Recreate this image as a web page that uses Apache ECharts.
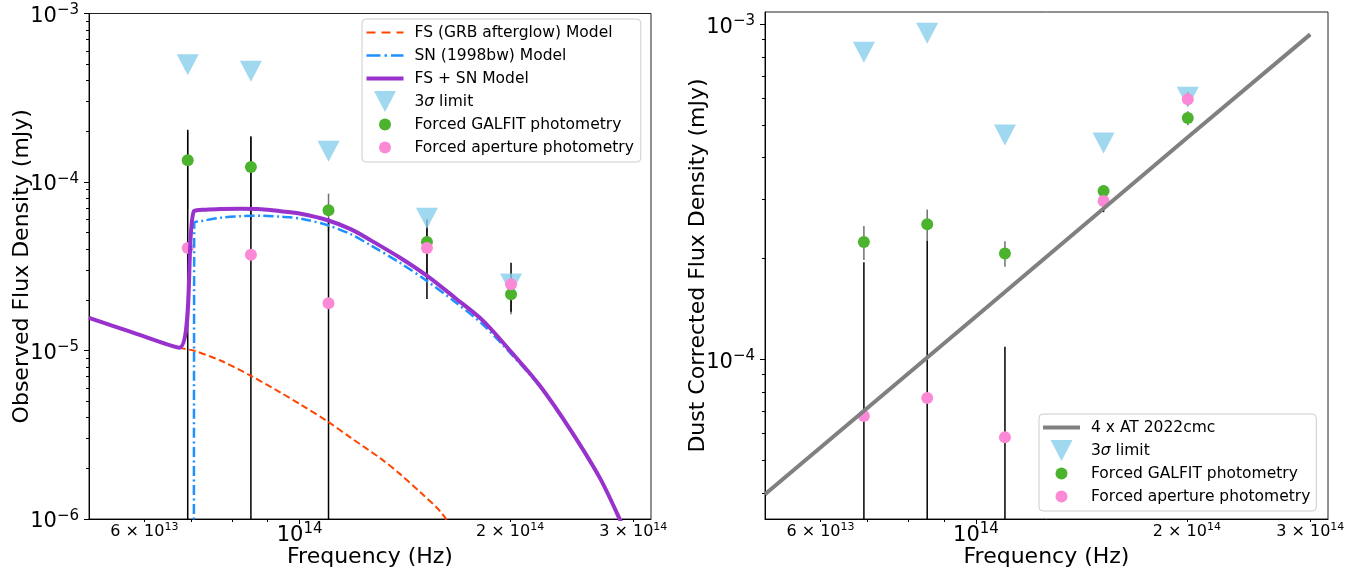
<!DOCTYPE html>
<html>
<head>
<meta charset="utf-8">
<script src="https://cdn.jsdelivr.net/npm/echarts@6/dist/echarts.min.js"></script>
<style>html,body{margin:0;padding:0;background:#fff}#c{width:1364px;height:574px}</style>
</head>
<body>
<div id="c"></div>
<script>
// ---------- data ----------
const filterFreq = [6.92e13, 8.52e13, 1.10e14, 1.521e14, 2.006e14];

// left panel: observed
const limitObs = [4.97e-4, 4.54e-4, 1.52e-4, 6.1e-5, 2.48e-5];
const galfitObs = [1.344e-4, 1.228e-4, 6.8e-5, 4.4e-5, 2.16e-5];
const galfitObsLo = [6.9e-5, 6.0e-5, 5.1e-5, 2.9e-5, 1.64e-5];
const galfitObsHi = [2.0e-4, 1.85e-4, 8.53e-5, 5.9e-5, 2.7e-5];
const apertureObs = [4.06e-5, 3.70e-5, 1.91e-5, 4.06e-5, 2.47e-5];
const apertureObsLo = [null, null, null, 2.02e-5, 1.7e-5];
const apertureObsHi = [2.04e-4, 1.87e-4, 6.1e-5, 6.0e-5, 3.32e-5];

// models (left panel)
const fsFreq = [5.0e13, 5.74e13, 6.73e13, 7.07e13, 7.72e13, 8.52e13, 9.40e13, 1.004e14, 1.097e14, 1.183e14, 1.305e14, 1.394e14, 1.488e14, 1.589e14, 1.696e14];
const fsFlux = [1.56e-5, 1.29e-5, 1.04e-5, 9.96e-6, 8.69e-6, 7.08e-6, 5.62e-6, 4.77e-6, 3.79e-6, 3.04e-6, 2.29e-6, 1.84e-6, 1.44e-6, 1.11e-6, 7.5e-7];
const snFreq = [7.06e13, 7.07e13, 7.23e13, 7.72e13, 8.25e13, 8.81e13, 9.40e13, 1.004e14, 1.097e14, 1.183e14, 1.263e14, 1.394e14, 1.522e14, 1.669e14, 1.830e14, 2.012e14, 2.206e14, 2.434e14, 2.686e14, 2.868e14, 3.062e14];
const snFlux = [1e-8, 5.69e-5, 5.85e-5, 6.14e-5, 6.27e-5, 6.31e-5, 6.22e-5, 6.06e-5, 5.54e-5, 4.90e-5, 4.22e-5, 3.30e-5, 2.58e-5, 1.94e-5, 1.42e-5, 9.43e-6, 6.10e-6, 3.40e-6, 1.74e-6, 1.0e-6, 5.4e-7];
const totFreq = [5.0e13, 5.74e13, 6.73e13, 7.06e13, 7.35e13, 7.72e13, 8.25e13, 8.81e13, 9.40e13, 1.004e14, 1.097e14, 1.183e14, 1.263e14, 1.394e14, 1.522e14, 1.669e14, 1.830e14, 2.012e14, 2.206e14, 2.434e14, 2.686e14, 2.868e14, 3.062e14];
const totFlux = [1.56e-5, 1.29e-5, 1.04e-5, 6.71e-5, 6.85e-5, 6.91e-5, 6.94e-5, 6.90e-5, 6.71e-5, 6.48e-5, 5.93e-5, 5.25e-5, 4.52e-5, 3.54e-5, 2.77e-5, 2.05e-5, 1.50e-5, 9.69e-6, 6.18e-6, 3.43e-6, 1.76e-6, 1.0e-6, 5.4e-7];

// right panel: dust corrected
const limitDust = [8.25e-4, 9.40e-4, 4.67e-4, 4.42e-4, 6.06e-4];
const galfitDust = [2.24e-4, 2.53e-4, 2.07e-4, 3.18e-4, 5.25e-4];
const galfitDustLo = [1.98e-4, 2.26e-4, 1.89e-4, 3.05e-4, 5.0e-4];
const galfitDustHi = [2.5e-4, 2.8e-4, 2.25e-4, 3.31e-4, 5.5e-4];
const apertureDust = [6.78e-5, 7.67e-5, 5.86e-5, 2.97e-4, 5.97e-4];
const apertureDustLo = [null, null, null, 2.75e-4, 5.7e-4];
const apertureDustHi = [1.95e-4, 2.26e-4, 1.09e-4, 3.2e-4, 6.27e-4];
const atFreq = [5.0e13, 1.0e14, 2.0e14, 3.0e14];
const atFlux = [3.96e-5, 1.343e-4, 4.58e-4, 9.33e-4];

// axes / ticks
const X_MIN = 5e13, X_MAX = 3.18e14;
const YL_MIN = 1e-6, YL_MAX = 1e-3;
const YR_MIN = 3.34e-5, YR_MAX = 1.088e-3;
const xLabelTicks = [6e13, 1e14, 2e14, 3e14];
const xMajorTicks = [1e14];
const xMinorTicks = [6e13, 7e13, 8e13, 9e13, 2e14, 3e14];
const yLeftMajor = [1e-6, 1e-5, 1e-4, 1e-3];
const yRightMajor = [1e-4, 1e-3];

// ---------- helpers ----------
const FONT = 'DejaVu Sans';
function minorLogTicks(lo, hi) {
  const out = [];
  for (let e = -7; e <= -2; e++) for (let k = 2; k <= 9; k++) {
    const v = k * Math.pow(10, e);
    if (v >= lo && v <= hi) out.push(v);
  }
  return out;
}
const expStr = e => String(e).replace('-', '\u2212');
function yFmt(v) { const e = Math.round(Math.log10(v)); return '{b|10}{s|' + expStr(e) + '}'; }
function xFmt(v) {
  const e = Math.floor(Math.log10(v) + 1e-9);
  const m = Math.round(v / Math.pow(10, e));
  return m === 1 ? '{b|10}{s|' + e + '}' : '{n|' + m + ' \u00d7 10}{t|' + e + '}';
}
const labelRich = {
  b: {fontFamily: FONT, fontSize: 21, lineHeight: 21, padding: [6, 0, 0, 0], color: '#000'},
  s: {fontFamily: FONT, fontSize: 15, lineHeight: 14, verticalAlign: 'top', color: '#000'},
  n: {fontFamily: FONT, fontSize: 16, lineHeight: 16, padding: [4, 0, 0, 0], color: '#000'},
  t: {fontFamily: FONT, fontSize: 11, lineHeight: 11, verticalAlign: 'top', color: '#000'}
};
// legend icons: all share a 37x21 box
const BOX = 'M0,0M37,21';
const TRI = 'path://M0,0L22,0L11,21Z';
const CIRC = 'path://' + 'M0,0M21,21' + 'M4.5,10.5A6,6,0,1,1,16.5,10.5A6,6,0,1,1,4.5,10.5Z';
function bar(x0, x1, h) { const y0 = 10.5 - h / 2, y1 = 10.5 + h / 2; return 'M' + x0 + ',' + y0 + 'L' + x1 + ',' + y0 + 'L' + x1 + ',' + y1 + 'L' + x0 + ',' + y1 + 'Z'; }
const ICON_DASH = 'path://' + BOX + bar(0, 9, 2) + bar(15, 24, 2) + bar(30, 37, 2);
const ICON_DASHDOT = 'path://' + BOX + bar(0, 14, 2.5) + bar(18, 20.5, 2.5) + bar(24.5, 37, 2.5);
const ICON_SOLID = 'path://' + BOX + bar(0, 37, 4);

const C_LIM = 'rgba(135,206,235,0.8)', C_GAL = '#4bb32e', C_APE = '#fc89d6';

function xAxes(grid) {
  return [{
    gridIndex: grid, type: 'log', logBase: 10, min: X_MIN, max: X_MAX, position: 'bottom',
    name: 'Frequency (Hz)', nameLocation: 'middle', nameGap: 27, nameMoveOverlap: false,
    nameTextStyle: {fontFamily: FONT, fontSize: 22, color: '#000'},
    axisLine: {show: true, onZero: false, lineStyle: {color: '#000', width: 1}},
    axisTick: {show: true, length: 5, customValues: xMajorTicks, lineStyle: {color: '#000', width: 1}},
    axisLabel: {show: true, customValues: xLabelTicks, margin: 3, formatter: xFmt, rich: labelRich, color: '#000'},
    splitLine: {show: false}
  }, {
    gridIndex: grid, type: 'log', logBase: 10, min: X_MIN, max: X_MAX, position: 'bottom',
    axisLine: {show: false},
    axisTick: {show: true, length: 3, customValues: xMinorTicks, lineStyle: {color: '#000', width: 1}},
    axisLabel: {show: false}, splitLine: {show: false}
  }];
}
function yAxes(grid, lo, hi, major, name) {
  return [{
    gridIndex: grid, type: 'log', logBase: 10, min: lo, max: hi, position: 'left',
    name: name, nameLocation: 'middle', nameGap: 56, nameMoveOverlap: false,
    nameTextStyle: {fontFamily: FONT, fontSize: 22, color: '#000'},
    axisLine: {show: true, onZero: false, lineStyle: {color: '#000', width: 1}},
    axisTick: {show: true, length: 5, customValues: major, lineStyle: {color: '#000', width: 1}},
    axisLabel: {show: true, customValues: major, margin: 10, formatter: yFmt, rich: labelRich, color: '#000'},
    splitLine: {show: false}
  }, {
    gridIndex: grid, type: 'log', logBase: 10, min: lo, max: hi, position: 'left',
    axisLine: {show: false},
    axisTick: {show: true, length: 3, customValues: minorLogTicks(lo, hi), lineStyle: {color: '#000', width: 1}},
    axisLabel: {show: false}, splitLine: {show: false}
  }];
}
function pairs(xs, ys) { return xs.map((x, i) => [x, ys[i]]); }
function lineSeries(name, xi, yi, xs, ys, color, width, type, smooth) {
  return {
    name: name, type: 'line', xAxisIndex: xi, yAxisIndex: yi, data: pairs(xs, ys),
    symbol: 'none', showSymbol: false, smooth: smooth || false, clip: true,
    itemStyle: {color: color}, lineStyle: {color: color, width: width, type: type}
  };
}
function errSeries(id, xi, yi, lo, hi, yMin, color) {
  return {
    name: id, type: 'custom', xAxisIndex: xi, yAxisIndex: yi, silent: true,
    data: filterFreq.map((f, i) => [f, lo[i] == null ? yMin : lo[i], hi[i]]),
    encode: {x: 0, y: [1, 2]},
    renderItem: function (params, api) {
      const a = api.coord([api.value(0), api.value(1)]);
      const b = api.coord([api.value(0), api.value(2)]);
      return {type: 'line', shape: {x1: a[0], y1: a[1], x2: b[0], y2: b[1]},
              style: {stroke: color, lineWidth: 1.5}};
    }
  };
}
function scatter(name, xi, yi, ys, color, symbol, size) {
  return {
    name: name, type: 'scatter', xAxisIndex: xi, yAxisIndex: yi, data: pairs(filterFreq, ys),
    symbol: symbol, symbolSize: size, itemStyle: {color: color, opacity: 1}
  };
}

const legendText = {
  fontFamily: FONT, fontSize: 15.5, color: '#000', padding: [0, 0, 0, 6],
  rich: {i: {fontFamily: FONT, fontSize: 15.5, fontStyle: 'italic', color: '#000'}}
};
const legendFmt = n => n === '3σ limit' ? '3{i|σ} limit' : n;
const legendBase = {
  orient: 'vertical', selectedMode: false,
  itemWidth: 37, itemHeight: 21, itemGap: 2,
  borderColor: '#cccccc', borderWidth: 1, borderRadius: 4, backgroundColor: 'rgba(255,255,255,0.8)',
  textStyle: legendText, formatter: legendFmt
};

const option = {
  animation: false,
  backgroundColor: '#fff',
  grid: [
    {left: 89, top: 12, width: 562, height: 507, show: true, borderColor: '#222', borderWidth: 1, backgroundColor: 'transparent'},
    {left: 765, top: 12, width: 563, height: 507, show: true, borderColor: '#222', borderWidth: 1, backgroundColor: 'transparent'}
  ],
  xAxis: [...xAxes(0), ...xAxes(1)],
  yAxis: [...yAxes(0, YL_MIN, YL_MAX, yLeftMajor, 'Observed Flux Density (mJy)'),
          ...yAxes(1, YR_MIN, YR_MAX, yRightMajor, 'Dust Corrected Flux Density (mJy)')],
  legend: [Object.assign({}, legendBase, {
    left: 362, top: 19, padding: [3, 7, 4, 4.5],
    data: [{name: 'FS (GRB afterglow) Model', icon: ICON_DASH},
           {name: 'SN (1998bw) Model', icon: ICON_DASHDOT},
           {name: 'FS + SN Model', icon: ICON_SOLID},
           {name: '3σ limit', icon: TRI}, {name: 'Forced GALFIT photometry', icon: CIRC},
           {name: 'Forced aperture photometry', icon: CIRC}]
  }), Object.assign({}, legendBase, {
    left: 1039, top: 414, padding: [3, 6, 4, 4],
    data: [{name: '4 x AT 2022cmc', icon: ICON_SOLID}, {name: '3σ limit', icon: TRI},
           {name: 'Forced GALFIT photometry', icon: CIRC}, {name: 'Forced aperture photometry', icon: CIRC}]
  })],
  series: [
    // left panel
    lineSeries('FS (GRB afterglow) Model', 0, 0, fsFreq, fsFlux, '#ff4500', 2, [7, 3.5], 0.3),
    lineSeries('SN (1998bw) Model', 0, 0, snFreq, snFlux, '#1e90ff', 2.5, [10, 3.5, 2, 3.5], 0.3),
    lineSeries('FS + SN Model', 0, 0, totFreq, totFlux, '#9932cc', 4, 'solid', 0.3),
    errSeries('galfit-err-obs', 0, 0, galfitObsLo, galfitObsHi, YL_MIN, '#707070'),
    errSeries('aperture-err-obs', 0, 0, apertureObsLo, apertureObsHi, YL_MIN, '#000'),
    scatter('3σ limit', 0, 0, limitObs, C_LIM, TRI, [22, 21]),
    scatter('Forced GALFIT photometry', 0, 0, galfitObs, C_GAL, 'circle', 12),
    scatter('Forced aperture photometry', 0, 0, apertureObs, C_APE, 'circle', 12),
    // right panel
    lineSeries('4 x AT 2022cmc', 2, 2, atFreq, atFlux, '#808080', 4, 'solid'),
    errSeries('galfit-err-dust', 2, 2, galfitDustLo, galfitDustHi, YR_MIN, '#707070'),
    errSeries('aperture-err-dust', 2, 2, apertureDustLo, apertureDustHi, YR_MIN, '#000'),
    scatter('3σ limit', 2, 2, limitDust, C_LIM, TRI, [22, 21]),
    scatter('Forced GALFIT photometry', 2, 2, galfitDust, C_GAL, 'circle', 12),
    scatter('Forced aperture photometry', 2, 2, apertureDust, C_APE, 'circle', 12)
  ]
};
const chart = echarts.init(document.getElementById('c'), null, {renderer: 'canvas'});
chart.setOption(option);
</script>
</body>
</html>
